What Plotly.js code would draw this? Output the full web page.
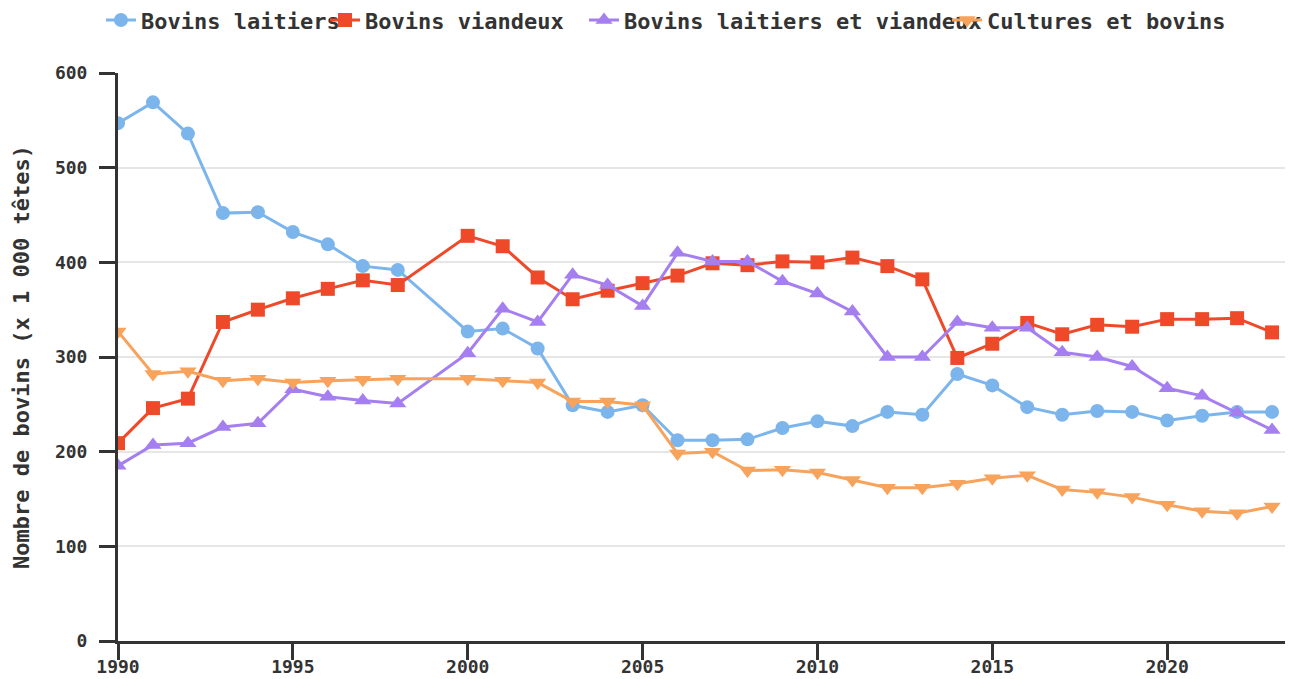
<!DOCTYPE html>
<html>
<head>
<meta charset="utf-8">
<script src="https://cdn.plot.ly/plotly-3.0.1.min.js"></script>
<style>html,body{margin:0;padding:0;background:#fff;}#chart{width:1289px;height:679px;}</style>
</head>
<body>
<div id="chart"></div>
<script>
const years = [1990,1991,1992,1993,1994,1995,1996,1997,1998,2000,2001,2002,2003,2004,2005,2006,2007,2008,2009,2010,2011,2012,2013,2014,2015,2016,2017,2018,2019,2020,2021,2022,2023];
const seriesNames = ["Bovins laitiers","Bovins viandeux","Bovins laitiers et viandeux","Cultures et bovins"];
const laitiers = [547,569,536,452,453,432,419,396,392,327,330,309,249,242,249,212,212,213,225,232,227,242,239,282,270,247,239,243,242,233,238,242,242];
const viandeux = [209,246,256,337,350,362,372,381,376,428,417,384,361,370,378,386,399,397,401,400,405,396,382,299,314,336,324,334,332,340,340,341,326];
const mixtes = [185,207,209,226,230,266,258,254,251,304,351,337,387,376,354,410,401,401,380,367,348,300,300,337,331,331,305,300,290,267,259,241,223];
const cultures = [327,282,285,275,277,273,275,276,277,277,275,273,253,253,249,198,200,180,181,178,170,162,162,166,172,175,160,157,152,144,137,135,142];
const yTickVals = [0,100,200,300,400,500,600];
const xTickVals = [1990,1995,2000,2005,2010,2015,2020];

const colors = ["#7cb5ec","#ee4a2a","#a57ff0","#f7a35c"];
const symbols = ["circle","square","triangle-up","triangle-down"];
const sizes = [14,14,15,15];
const allData = [laitiers, viandeux, mixtes, cultures];
const legendIds = ["legend","legend2","legend3","legend4"];

const traces = allData.map((vals,i)=>({
  type:"scatter", mode:"lines+markers", name:seriesNames[i],
  x:years, y:vals, legend:legendIds[i],
  line:{color:colors[i], width:3},
  marker:{color:colors[i], symbol:symbols[i], size:sizes[i]}
}));

const font = {family:"DejaVu Sans Mono, monospace", color:"#333"};
const legendX = [-0.0146, 0.1774, 0.3993, 0.7104];
function legendCfg(i){
  return {x:legendX[i], xanchor:"left", y:1.093, yanchor:"middle", orientation:"h",
    font:{family:font.family, size:22, color:"#333", weight:"bold"}, bgcolor:"rgba(0,0,0,0)", borderwidth:0};
}
const layout = {
  width:1289, height:679,
  margin:{l:118, r:4, t:73, b:38, autoexpand:false},
  paper_bgcolor:"#fff", plot_bgcolor:"#fff",
  font:font,
  showlegend:true,
  legend:legendCfg(0), legend2:legendCfg(1), legend3:legendCfg(2), legend4:legendCfg(3),
  xaxis:{range:[1990,2023.37], tickvals:xTickVals, ticktext:xTickVals.map(String),
    showgrid:false, zeroline:false, showline:true, linecolor:"#333", linewidth:3,
    ticks:"outside", ticklen:16, tickwidth:3, tickcolor:"#333", ticklabelstandoff:-9,
    tickfont:{family:font.family, size:18, color:"#333", weight:"bold"}},
  yaxis:{range:[0,600], tickvals:yTickVals, ticktext:yTickVals.map(String),
    showgrid:true, gridcolor:"#e6e6e6", gridwidth:2, zeroline:false,
    showline:true, linecolor:"#333", linewidth:3,
    ticks:"outside", ticklen:16, tickwidth:3, tickcolor:"#333", ticklabelstandoff:8,
    tickfont:{family:font.family, size:18, color:"#333", weight:"bold"},
    title:{text:"Nombre de bovins (x 1 000 têtes)", standoff:20,
      font:{family:font.family, size:22, color:"#333", weight:"bold"}}}
};
Plotly.newPlot("chart", traces, layout, {displayModeBar:false, staticPlot:true});
</script>
</body>
</html>
